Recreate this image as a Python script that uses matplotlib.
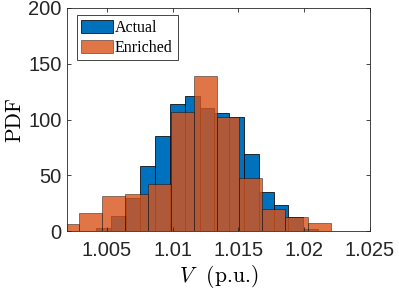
import numpy as np
import matplotlib
matplotlib.use("Agg")
import matplotlib.pyplot as plt

plt.rcParams['mathtext.fontset'] = 'cm'

# histogram bin edges and pdf heights
actual_edges = [1.00419, 1.00531, 1.00644, 1.00756, 1.00868, 1.00981, 1.01093, 1.01206,
                1.01318, 1.01430, 1.01543, 1.01655, 1.01768, 1.01880, 1.01992, 1.02105]
actual_pdf = [2.4, 13.5, 29.6, 58.3, 85.2, 113.6, 120.8, 110.0,
              105.5, 102.0, 69.4, 34.7, 23.6, 12.3, 1.8]

enriched_edges = [1.00118, 1.00292, 1.00465, 1.00639, 1.00813, 1.00986, 1.01160,
                  1.01334, 1.01507, 1.01681, 1.01854, 1.02028, 1.02202]
enriched_pdf = [6.3, 15.8, 31.1, 32.9, 42.2, 107.0, 139.3, 102.0, 47.8, 19.4, 12.3, 6.9]

x_ticks = [1.005, 1.01, 1.015, 1.02, 1.025]
x_ticklabels = ['1.005', '1.01', '1.015', '1.02', '1.025']
y_ticks = [0, 50, 100, 150, 200]

blue = (0.0, 0.447, 0.741)
orange = (0.85, 0.325, 0.098)

fig = plt.figure(figsize=(3.99, 2.95), dpi=100)
ax = fig.add_axes([0.1687, 0.2169, 0.7586, 0.756])

ae = np.array(actual_edges)
ax.bar(ae[:-1], actual_pdf, width=np.diff(ae), align='edge',
       facecolor=blue, edgecolor=(0, 0, 0, 0.9), linewidth=0.6, label='Actual')
ee = np.array(enriched_edges)
ax.bar(ee[:-1], enriched_pdf, width=np.diff(ee), align='edge',
       facecolor=orange + (0.8,), edgecolor=(0, 0, 0, 0.5), linewidth=0.6,
       label='Enriched')

ax.set_xlim(1.002, 1.025)
ax.set_ylim(0, 200)
ax.set_xticks(x_ticks)
ax.set_xticklabels(x_ticklabels)
ax.set_yticks(y_ticks)

axcol = (0.15, 0.15, 0.15)
for s in ax.spines.values():
    s.set_color(axcol)
    s.set_linewidth(0.6)
ax.tick_params(direction='in', length=3, width=0.6, color=axcol,
               top=True, right=True, labelsize=14.5, labelcolor=axcol)
ax.tick_params(axis='x', pad=7)
ax.tick_params(axis='y', pad=4)
for lab in ax.get_xticklabels() + ax.get_yticklabels():
    lab.set_fontfamily('Liberation Sans')

ax.set_xlabel(r'$V$  (p.u.)', fontsize=15.5, family='cmr10', labelpad=2)
ax.set_ylabel('PDF', fontsize=15.5, family='cmr10', labelpad=3)

leg = ax.legend(loc='upper left', bbox_to_anchor=(0.031, 0.969), fancybox=False,
                framealpha=1, edgecolor=axcol, borderaxespad=0.0,
                prop={'family': 'Liberation Serif', 'size': 11.5},
                handlelength=1.95, handleheight=0.85, handletextpad=0.15,
                borderpad=0.3, labelspacing=0.25)
leg.get_frame().set_linewidth(0.6)

fig.savefig('out.png', dpi=100)
